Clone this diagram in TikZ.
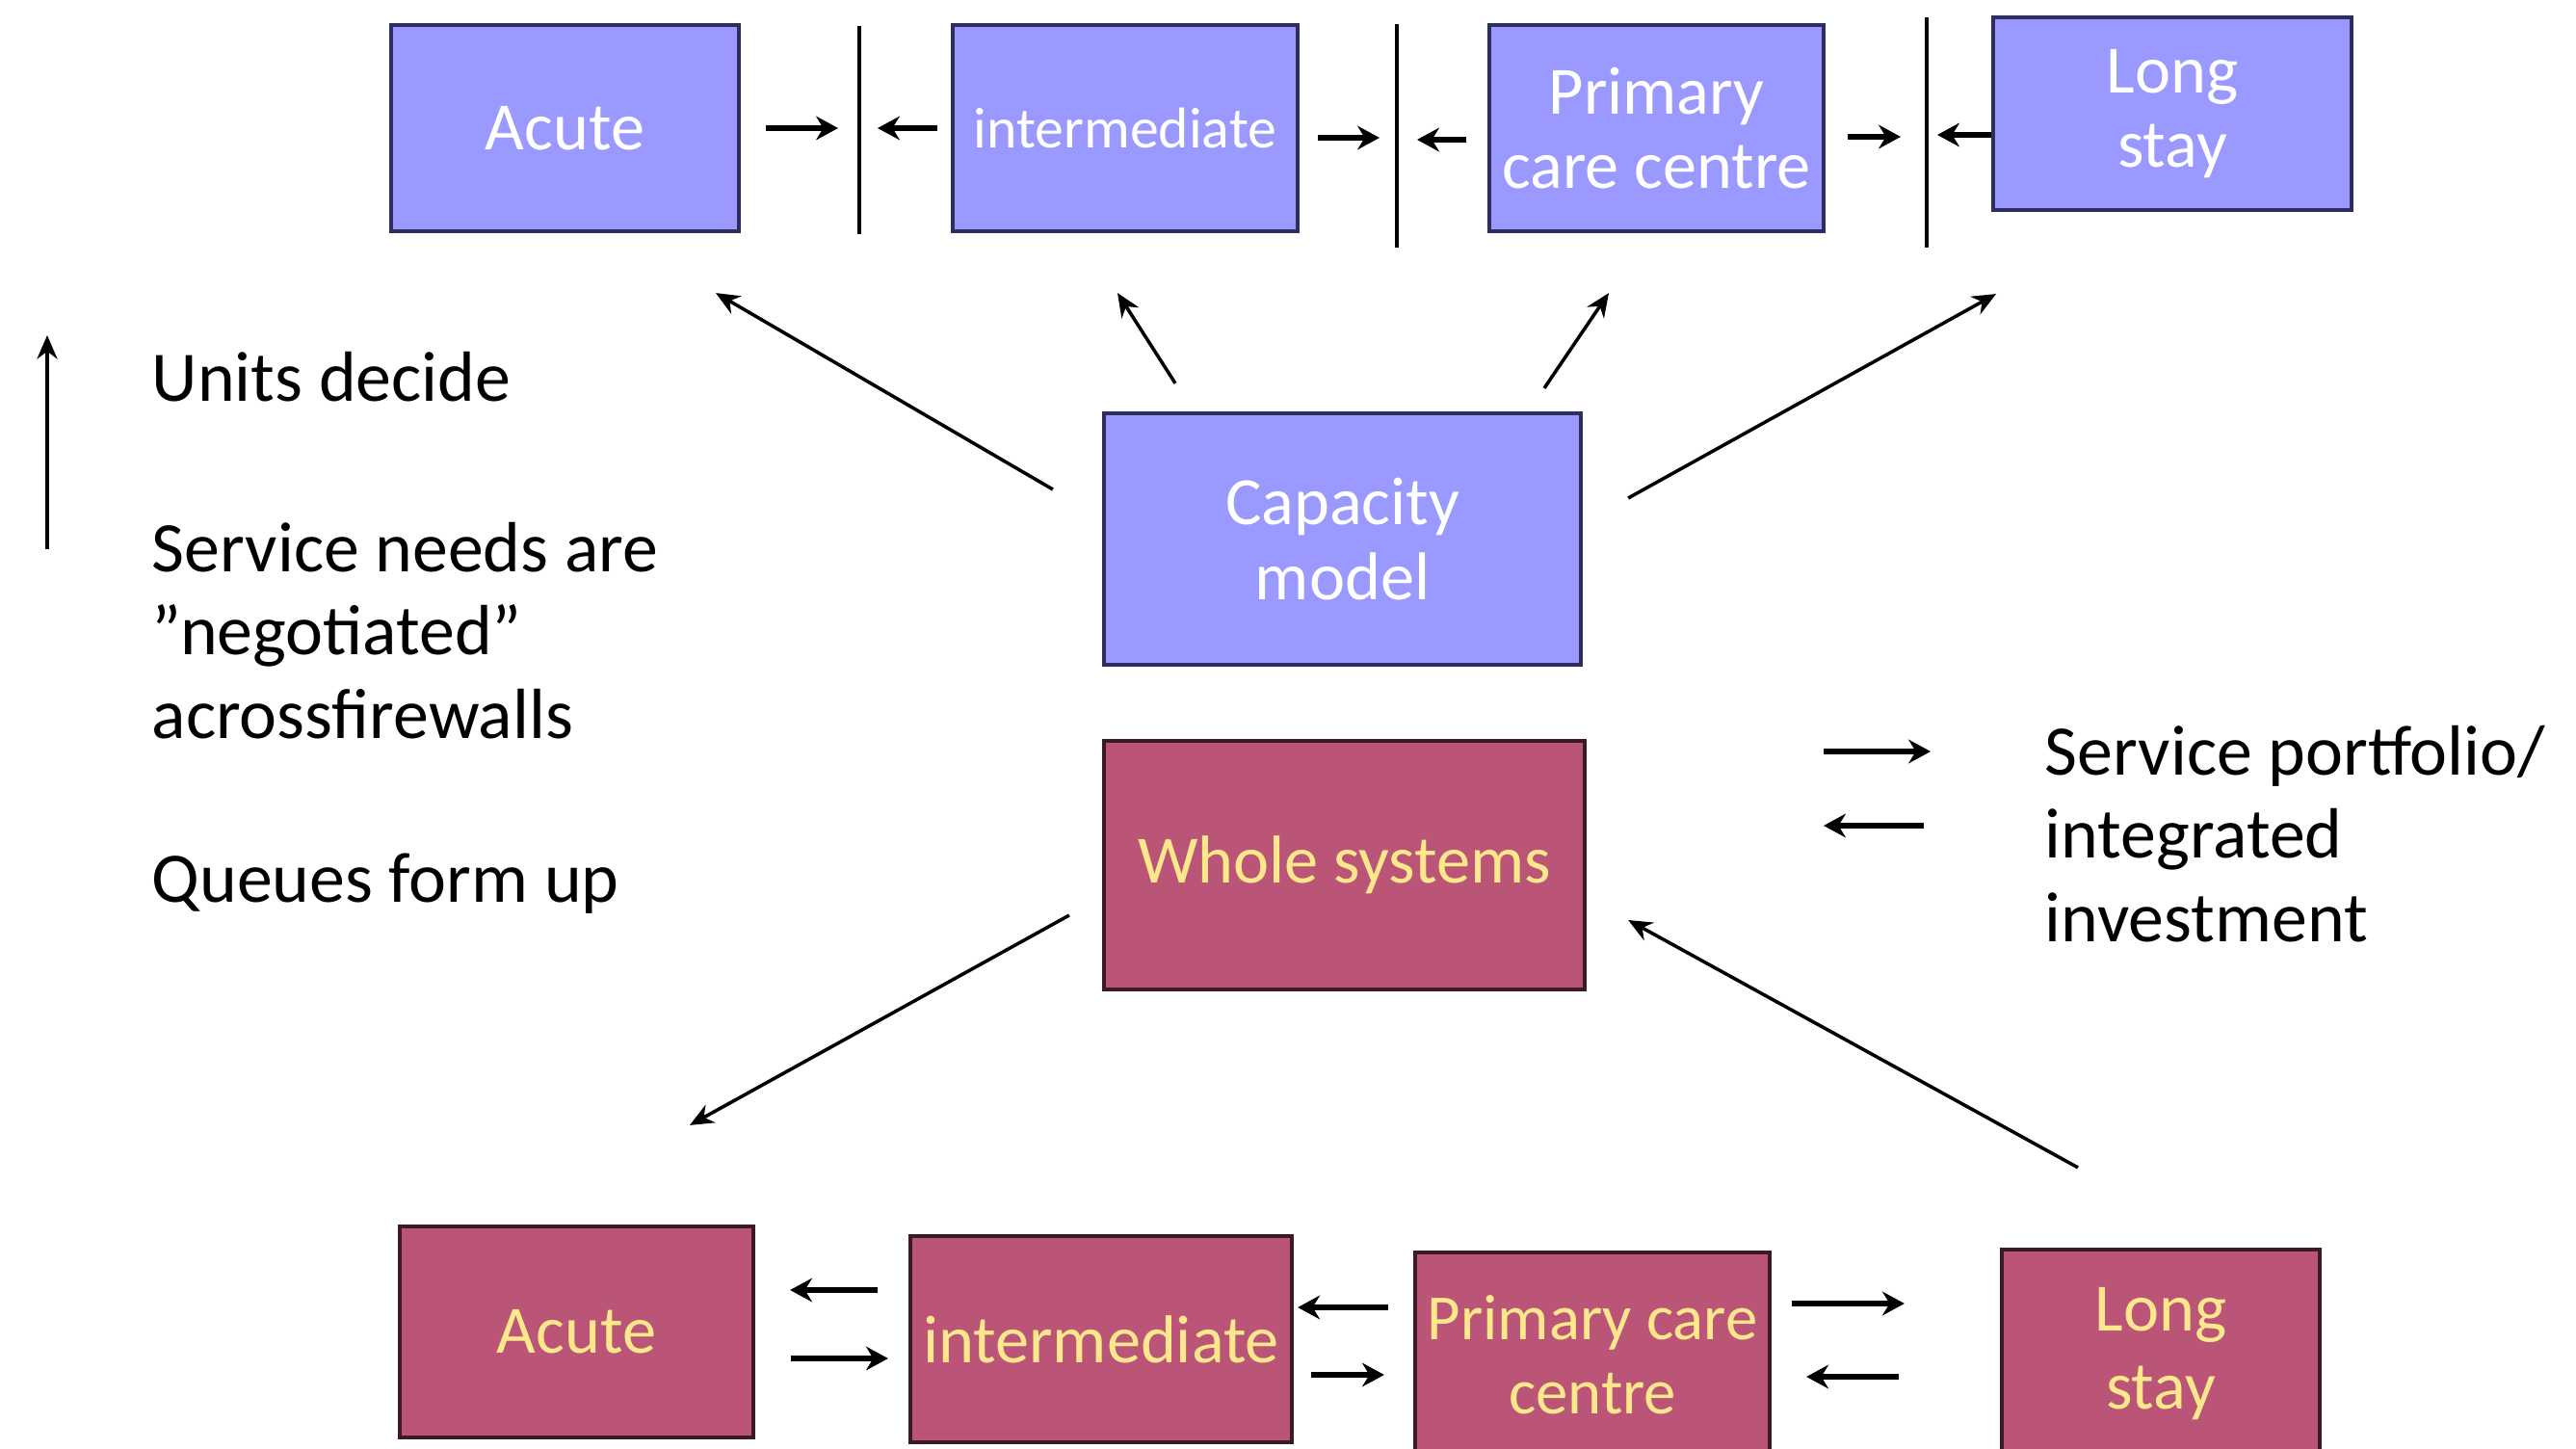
\documentclass[tikz,border=0pt]{standalone}
\usepackage{fontspec}
\setmainfont{Carlito}
\definecolor{unitblue}{RGB}{153,153,255}
\definecolor{unitedge}{RGB}{45,45,95}
\definecolor{wholepink}{RGB}{186,85,120}
\definecolor{wholeedge}{RGB}{60,25,40}
\definecolor{wholetext}{RGB}{255,232,140}
\usetikzlibrary{arrows.meta,positioning,calc}

\begin{document}
\begin{tikzpicture}[
    unitbox/.style={draw=unitedge, line width=1.2pt, fill=unitblue, text=white,
      align=center, inner sep=0pt, font=\fontsize{20}{22}\selectfont},
    wholebox/.style={draw=wholeedge, line width=1.2pt, fill=wholepink, text=wholetext,
      align=center, inner sep=0pt, font=\fontsize{20}{23}\selectfont},
    flow/.style={-{Stealth[length=6.5pt,width=7pt]}, line width=1.7pt},
    link/.style={-{Stealth[length=7pt,width=6pt]}, line width=1pt},
    wall/.style={line width=1pt},
    note/.style={font=\fontsize{21}{24.5}\selectfont, align=left, anchor=base west, inner sep=0pt}
  ]
      \useasboundingbox (0,0) rectangle (26.74,15.03);
      % Units, top row
      \node[unitbox, minimum width=3.61cm, minimum height=2.14cm] (acuteT) at (5.865,13.70) {Acute};
      \node[unitbox, minimum width=3.58cm, minimum height=2.14cm, font=\fontsize{17}{20}\selectfont] (interT) at (11.68,13.70) {intermediate};
      \node[unitbox, minimum width=3.47cm, minimum height=2.14cm] (primT) at (17.195,13.70) {Primary\\care centre};
      \node[unitbox, minimum width=3.72cm, minimum height=2.0cm] (longT) at (22.55,13.85) {Long\\stay};
      % Firewalls
      \coordinate (wallA top) at (8.92,14.76);  \coordinate (wallA bot) at (8.92,12.60);
      \coordinate (wallB top) at (14.50,14.78); \coordinate (wallB bot) at (14.50,12.46);
      \coordinate (wallC top) at (20.00,14.85); \coordinate (wallC bot) at (20.00,12.46);
      \draw[wall] (wallA top) -- (wallA bot);
      \draw[wall] (wallB top) -- (wallB bot);
      \draw[wall] (wallC top) -- (wallC bot);
      % Arrows against the firewalls
      \draw[flow, shorten <=2.6mm, shorten >=2.2mm] (acuteT.east) -- (acuteT.east -| wallA top);
      \draw[flow, shorten <=1.4mm, shorten >=1.9mm] (interT.west) -- (interT.west -| wallA top);
      \draw[flow, shorten <=1.9mm, shorten >=1.8mm] ([yshift=-1mm]interT.east) -- ([yshift=-1mm]interT.east -| wallB top);
      \draw[flow, shorten <=2.2mm, shorten >=2.1mm] ([yshift=-1.2mm]primT.west) -- ([yshift=-1.2mm]primT.west -| wallB top);
      \draw[flow, shorten <=2.3mm, shorten >=2.7mm] ([yshift=-0.9mm]primT.east) -- ([yshift=-0.9mm]primT.east -| wallC top);
      \draw[flow, shorten >=1.1mm] ([yshift=-2.2mm]longT.west) -- ([yshift=-2.2mm]longT.west -| wallC top);
      % Capacity model and whole systems
      \node[unitbox, minimum width=4.95cm, minimum height=2.61cm] (cap) at (13.935,9.435) {Capacity\\model};
      \node[wholebox, minimum width=4.99cm, minimum height=2.58cm] (whole) at (13.955,6.05) {Whole systems};
      \draw[link] ([shift={(-0.51,0.515)}]cap.west) -- ([shift={(1.565,-0.62)}]acuteT.south);
      \draw[link] ([shift={(-1.735,0.29)}]cap.north) -- ([shift={(-0.08,-0.62)}]interT.south);
      \draw[link] ([shift={(2.095,0.24)}]cap.north) -- ([shift={(-0.495,-0.62)}]primT.south);
      \draw[link] ([shift={(0.47,0.425)}]cap.east) -- ([shift={(-1.83,-0.85)}]longT.south);
      % Units, bottom row
      \node[wholebox, minimum width=3.67cm, minimum height=2.19cm] (acuteB) at (5.985,1.205) {Acute};
      \node[wholebox, minimum width=3.96cm, minimum height=2.14cm] (interB) at (11.43,1.13) {intermediate};
      \node[wholebox, minimum width=3.68cm, minimum height=2.13cm, font=\fontsize{19}{22}\selectfont] (primB) at (16.53,0.965) {Primary care\\centre};
      \node[wholebox, minimum width=3.30cm, minimum height=2.16cm] (longB) at (22.43,0.98) {Long\\stay};
      \draw[link] ([shift={(-0.34,-0.52)}]whole.west) -- ([shift={(1.175,1.03)}]acuteB.north);
      \draw[link] ([shift={(-0.86,0.83)}]longB.north) -- ([shift={(0.43,-0.57)}]whole.east);
      % Two-way flows
      \draw[flow, shorten <=3.2mm, shorten >=3.6mm] ([yshift=5.1mm]interB.west) -- ([yshift=5.1mm]interB.west -| acuteB.east);
      \draw[flow, shorten <=3.7mm, shorten >=2.1mm] ([yshift=-2.75mm]acuteB.east) -- ([yshift=-2.75mm]acuteB.east -| interB.west);
      \draw[flow, shorten <=2.6mm, shorten >=0.4mm] ([yshift=4.95mm]primB.west) -- ([yshift=4.95mm]primB.west -| interB.east);
      \draw[flow, shorten <=1.8mm, shorten >=3mm] ([yshift=-3.7mm]interB.east) -- ([yshift=-3.7mm]interB.east -| primB.west);
      \draw[flow, shorten <=2.1mm, shorten >=9.9mm] ([yshift=5.35mm]primB.east) -- ([yshift=5.35mm]primB.east -| longB.west);
      \draw[flow, shorten <=10.5mm, shorten >=3.6mm] ([yshift=-2.25mm]primB.east -| longB.west) -- ([yshift=-2.25mm]primB.east);
      % Left legend
      \coordinate (legend bot) at (0.49,9.33);
      \coordinate (legend top) at (0.49,11.55);
      \draw[link] (legend bot) -- (legend top);
      \node[note] (units) at (1.57,10.86) {Units decide};
      \node[note] (needs) at (1.57,7.37) {Service needs are\\”negotiated”\\acrossfirewalls};
      \node[note] (queues) at (1.57,5.67) {Queues form up};
      % Right legend
      \coordinate (port a) at (18.93,7.23);
      \coordinate (port b) at (20.04,7.23);
      \coordinate (port c) at (19.97,6.46);
      \coordinate (port d) at (18.93,6.46);
      \draw[flow] (port a) -- (port b);
      \draw[flow] (port c) -- (port d);
      \node[note] (portfolio) at (21.22,5.26) {Service portfolio/\\integrated\\investment};
    \end{tikzpicture}
\end{document}
